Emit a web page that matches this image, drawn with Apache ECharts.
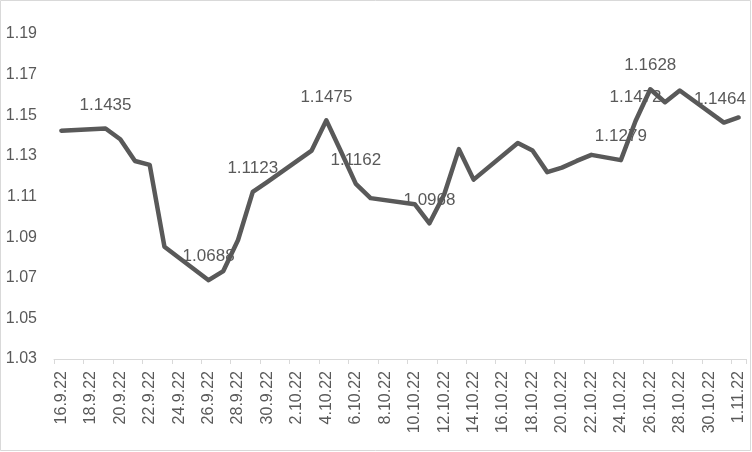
<!DOCTYPE html>
<html>
<head>
<meta charset="utf-8">
<script src="https://cdn.jsdelivr.net/npm/echarts@6/dist/echarts.min.js"></script>
<style>
html,body{margin:0;padding:0;background:#fff;}
#chart{width:752px;height:452px;}
</style>
</head>
<body>
<div id="chart"></div>
<script>
const dates = ['16.9.22','17.9.22','18.9.22','19.9.22','20.9.22','21.9.22','22.9.22','23.9.22','24.9.22','25.9.22',
  '26.9.22','27.9.22','28.9.22','29.9.22','30.9.22','1.10.22','2.10.22','3.10.22','4.10.22','5.10.22',
  '6.10.22','7.10.22','8.10.22','9.10.22','10.10.22','11.10.22','12.10.22','13.10.22','14.10.22','15.10.22',
  '16.10.22','17.10.22','18.10.22','19.10.22','20.10.22','21.10.22','22.10.22','23.10.22','24.10.22','25.10.22',
  '26.10.22','27.10.22','28.10.22','29.10.22','30.10.22','31.10.22','1.11.22'];
const rates = [1.1424, null, null, 1.1435, 1.1382, 1.1275, 1.1256, 1.0853, null, null,
  1.0688, 1.0733, 1.0886, 1.1123, 1.1172, null, null, 1.1326, 1.1475, 1.1320,
  1.1162, 1.1092, null, null, 1.1062, 1.0968, 1.1110, 1.1333, 1.1183, null,
  null, 1.1363, 1.1326, 1.1220, 1.1242, 1.1275, 1.1305, null, 1.1279, 1.1472,
  1.1628, 1.1564, 1.1622, null, null, 1.1464, 1.1489];
const labeledDates = ['19.9.22','26.9.22','29.9.22','4.10.22','6.10.22','11.10.22','24.10.22','25.10.22','26.10.22','31.10.22'];
const yMin = 1.03, yMax = 1.19, yStep = 0.01;

const chart = echarts.init(document.getElementById('chart'), null, {renderer: 'canvas'});
const FONT = 'Liberation Sans';
const seriesData = rates.map((v, i) => {
  if (labeledDates.indexOf(dates[i]) >= 0) {
    const lbl = {show: true};
    if (i === dates.length - 2) lbl.offset = [-4, 0];
    return {value: v, label: lbl};
  }
  return v;
});
chart.setOption({
  animation: false,
  backgroundColor: '#fff',
  graphic: [{
    type: 'rect', shape: {x: 0.5, y: 0.5, width: 750, height: 450},
    style: {fill: 'none', stroke: '#d9d9d9', lineWidth: 1}, silent: true, z: 0
  }],
  grid: {left: 54, right: 6, top: 34, bottom: 93, containLabel: false},
  xAxis: {
    type: 'category',
    data: dates,
    boundaryGap: true,
    axisLine: {show: true, lineStyle: {color: '#d9d9d9', width: 1}},
    axisTick: {show: true, interval: 1, length: 5, lineStyle: {color: '#d9d9d9'}},
    axisLabel: {interval: 1, rotate: 90, margin: 12, color: '#595959', fontFamily: FONT, fontSize: 16},
    splitLine: {show: false}
  },
  yAxis: {
    type: 'value',
    min: yMin, max: yMax, interval: yStep,
    axisLine: {show: false},
    axisTick: {show: false},
    splitLine: {show: false},
    axisLabel: {
      margin: 17, color: '#595959', fontFamily: FONT, fontSize: 16,
      formatter: v => (Math.round(v * 100) % 2 === 1 ? v.toFixed(2) : '')
    }
  },
  series: [{
    type: 'line',
    data: seriesData,
    connectNulls: true,
    symbol: 'circle',
    symbolSize: 0,
    showSymbol: true,
    lineStyle: {color: '#595959', width: 4.5, join: 'round', cap: 'round'},
    itemStyle: {color: '#595959'},
    label: {
      show: false, position: 'top', distance: 15,
      color: '#595959', fontFamily: FONT, fontSize: 17,
      formatter: p => p.value.toFixed(4)
    },
    emphasis: {disabled: true}
  }]
});
</script>
</body>
</html>
